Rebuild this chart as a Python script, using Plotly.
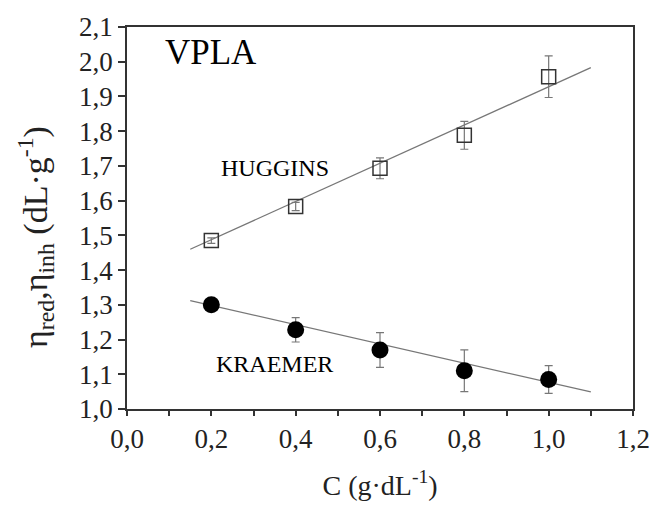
import plotly.graph_objects as go

conc = [0.2, 0.4, 0.6, 0.8, 1.0]
huggins = [1.485, 1.583, 1.693, 1.788, 1.957]
huggins_err = [0.008, 0.012, 0.03, 0.04, 0.06]
kraemer = [1.300, 1.228, 1.170, 1.110, 1.085]
kraemer_err = [0.0, 0.035, 0.05, 0.06, 0.04]
fit_x = [0.15, 1.1]
fit_huggins = [1.460, 1.983]
fit_kraemer = [1.312, 1.049]

FONT = "Liberation Serif, Times New Roman, serif"
fig = go.Figure()
fig.add_trace(go.Scatter(x=fit_x, y=fit_huggins, mode="lines",
                         line=dict(color="#777777", width=1.3), showlegend=False))
fig.add_trace(go.Scatter(x=fit_x, y=fit_kraemer, mode="lines",
                         line=dict(color="#777777", width=1.3), showlegend=False))
fig.add_trace(go.Scatter(x=conc, y=huggins, mode="markers",
                         marker=dict(symbol="square-open", size=14, color="#333333",
                                     line=dict(width=1.5, color="#333333")),
                         error_y=dict(type="data", array=huggins_err, color="#777777",
                                      thickness=1.2, width=4),
                         showlegend=False))
fig.add_trace(go.Scatter(x=conc, y=kraemer, mode="markers",
                         marker=dict(symbol="circle", size=17, color="black"),
                         error_y=dict(type="data", array=kraemer_err, color="#777777",
                                      thickness=1.2, width=4),
                         showlegend=False))

fig.add_annotation(x=0.2, y=2.026, text="VPLA", showarrow=False,
                   font=dict(family=FONT, size=35, color="black"))
fig.add_annotation(x=0.351, y=1.694, text="HUGGINS", showarrow=False,
                   font=dict(family=FONT, size=24, color="black"))
fig.add_annotation(x=0.349, y=1.131, text="KRAEMER", showarrow=False,
                   font=dict(family=FONT, size=24, color="black"))
# y-axis title placed as a rotated annotation (slightly below centre, as in reference)
fig.add_annotation(xref="paper", yref="paper", x=-0.182, y=0.45,
                   xanchor="center", yanchor="middle", textangle=-90,
                   text="η<sub>red</sub>,η<sub>inh</sub> (dL·g<sup>-1</sup>)",
                   showarrow=False, font=dict(family=FONT, size=34, color="#222222"))

fig.update_layout(
    width=662, height=518,
    margin=dict(l=127, r=20, t=24, b=109),
    paper_bgcolor="white", plot_bgcolor="white",
    separators=",.",
    font=dict(family=FONT, color="black"),
)
fig.update_xaxes(
    range=[0, 1.2], dtick=0.2, tickformat=".1f",
    ticks="outside", ticklen=5, tickwidth=1.5, tickcolor="#333333",
    minor=dict(ticks="outside", dtick=0.1, ticklen=5, tickwidth=1.5, tickcolor="#333333"),
    showline=True, linecolor="#333333", linewidth=1.8, mirror=True,
    showgrid=False, zeroline=False,
    tickfont=dict(family=FONT, size=27, color="#222222"),
    title=dict(text="C (g·dL<sup>-1</sup>)", font=dict(family=FONT, size=28, color="#222222"),
               standoff=22),
)
fig.update_yaxes(
    range=[1.0, 2.1], dtick=0.1, tickformat=".1f",
    ticks="outside", ticklen=7, tickwidth=1.5, tickcolor="#333333",
    showline=True, linecolor="#333333", linewidth=1.8, mirror=True,
    showgrid=False, zeroline=False,
    tickfont=dict(family=FONT, size=27, color="#222222"),
)
fig.write_html("out.html")
